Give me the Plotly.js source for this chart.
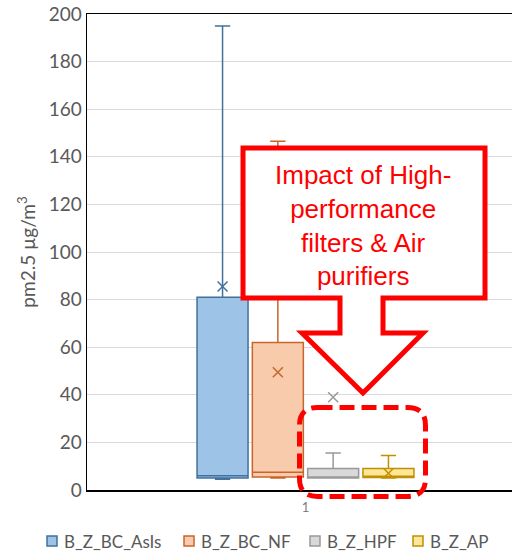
<!DOCTYPE html>
<html>
<head>
<meta charset="utf-8">
<script src="https://cdn.plot.ly/plotly-3.0.1.min.js"></script>
<style>html,body{margin:0;padding:0;background:#fff;}#chart{width:512px;height:553px;}</style>
</head>
<body>
<div id="chart"></div>
<script>
// ---- data ----
var seriesNames = ['B_Z_BC_AsIs', 'B_Z_BC_NF', 'B_Z_HPF', 'B_Z_AP'];
var lowerFence  = [4.5, 5.0, 5.0, 5.0];
var q1Values    = [5.0, 5.5, 5.0, 5.2];
var medianVals  = [6.0, 7.5, 5.5, 5.8];
var q3Values    = [81.0, 62.0, 9.0, 9.0];
var upperFence  = [195.0, 146.5, 15.5, 14.5];
var meanValues  = [85.5, 49.5, 39.0, 7.0];
var categoryLabel = ['1'];
var calloutText = 'Impact of High-<br>performance<br>filters & Air<br>purifiers';

// ---- styles ----
var fillColors = ['#9DC3E6', '#F8CBAD', '#D9D9D9', '#FFE699'];
var lineColors = ['#41719C', '#C8652A', '#999999', '#BF9000'];
var legendSquareX = [47, 184, 310, 413];   // pixel layout of the custom legend
var legendY = 541;

var W = 512, H = 553;
var M = {l: 87, r: 0, t: 14, b: 63};
var plotW = W - M.l - M.r, plotH = H - M.t - M.b;
function px(x) { return (x - M.l) / plotW; }
function py(y) { return (H - M.b - y) / plotH; }

var slot = 55.3;        // pixel spacing of grouped boxes
var centerPx = 305.5;   // pixel centre of the category
var boxWidth = 51 / slot;

var traces = [];
seriesNames.forEach(function (name, i) {
  var pos = i - (seriesNames.length - 1) / 2;
  traces.push({
    type: 'box', name: name, x: [pos],
    q1: [q1Values[i]], median: [medianVals[i]], q3: [q3Values[i]],
    lowerfence: [lowerFence[i]], upperfence: [upperFence[i]],
    width: boxWidth, whiskerwidth: 0.3,
    fillcolor: fillColors[i],
    line: {color: lineColors[i], width: 1.5},
    hoverinfo: 'skip', showlegend: false
  });
  traces.push({
    type: 'scatter', mode: 'markers', x: [pos], y: [meanValues[i]],
    showlegend: false, hoverinfo: 'skip',
    marker: {symbol: 'x-thin-open', size: 10, line: {color: lineColors[i], width: 1.5}, color: lineColors[i]}
  });
});

var red = '#FF0000';
function P(pts) {
  return 'M' + pts.map(function (p) { return px(p[0]).toFixed(4) + ',' + py(p[1]).toFixed(4); }).join(' L') + ' Z';
}
var callout = P([[243,148],[485,148],[485,298],[383,298],[383,333],[423,333],[363,393],[302,333],[340,333],[340,298],[243,298]]);

// rounded dashed rectangle
var rx0 = 299.5, rx1 = 425.5, ry0 = 407.5, ry1 = 496.5, rr = 18;
function pt(x, y) { return px(x).toFixed(4) + ',' + py(y).toFixed(4); }
var rounded = 'M' + pt(rx0 + rr, ry0) + ' L' + pt(rx1 - rr, ry0) +
  ' Q' + pt(rx1, ry0) + ' ' + pt(rx1, ry0 + rr) +
  ' L' + pt(rx1, ry1 - rr) + ' Q' + pt(rx1, ry1) + ' ' + pt(rx1 - rr, ry1) +
  ' L' + pt(rx0 + rr, ry1) + ' Q' + pt(rx0, ry1) + ' ' + pt(rx0, ry1 - rr) +
  ' L' + pt(rx0, ry0 + rr) + ' Q' + pt(rx0, ry0) + ' ' + pt(rx0 + rr, ry0) + ' Z';

var shapes = [
  {type: 'path', xref: 'paper', yref: 'paper', path: callout,
   fillcolor: '#ffffff', line: {color: red, width: 5}, layer: 'above'},
  {type: 'path', xref: 'paper', yref: 'paper', path: rounded,
   fillcolor: 'rgba(0,0,0,0)', line: {color: red, width: 5, dash: '15px,7px'}, layer: 'above'}
];
var annotations = [
  {xref: 'paper', yref: 'paper', x: px(363), y: py(225), xanchor: 'center', yanchor: 'middle',
   text: calloutText, showarrow: false, align: 'center',
   font: {family: '"Liberation Sans", Arial, sans-serif', size: 26, color: red}}
];

// custom legend (squares + text)
seriesNames.forEach(function (name, i) {
  var x0 = legendSquareX[i];
  shapes.push({type: 'rect', xref: 'paper', yref: 'paper',
    x0: px(x0), x1: px(x0 + 10), y0: py(legendY - 5), y1: py(legendY + 5),
    fillcolor: fillColors[i], line: {color: lineColors[i], width: 1.5}});
  annotations.push({xref: 'paper', yref: 'paper', x: px(x0 + 15), y: py(legendY),
    xanchor: 'left', yanchor: 'middle', showarrow: false, text: name,
    font: {size: 17, color: '#595959'}});
});

var layout = {
  width: W, height: H,
  margin: M,
  paper_bgcolor: '#ffffff', plot_bgcolor: '#ffffff',
  font: {family: 'Lato, "Open Sans", sans-serif', color: '#595959'},
  showlegend: false,
  xaxis: {
    range: [(M.l - centerPx) / slot, (W - M.r - centerPx) / slot],
    tickvals: [0], ticktext: categoryLabel,
    tickfont: {size: 13, color: '#7f7f7f'}, ticklabelstandoff: 5,
    showgrid: false, zeroline: false,
    showline: true, linecolor: '#000000', linewidth: 1.5, mirror: true,
    ticks: '', ticklen: 0
  },
  yaxis: {
    range: [0, 200], dtick: 20, tick0: 0,
    showgrid: true, gridcolor: '#D9D9D9', gridwidth: 1,
    zeroline: false,
    showline: true, linecolor: '#000000', linewidth: 1.5, mirror: false,
    ticks: '', tickfont: {size: 19, color: '#595959'},
    title: {text: 'pm2.5 µg/m<sup>3</sup>', font: {size: 19, color: '#595959'}, standoff: 8}
  },
  shapes: shapes,
  annotations: annotations
};

Plotly.newPlot('chart', traces, layout, {staticPlot: true, displayModeBar: false});
</script>
</body>
</html>
